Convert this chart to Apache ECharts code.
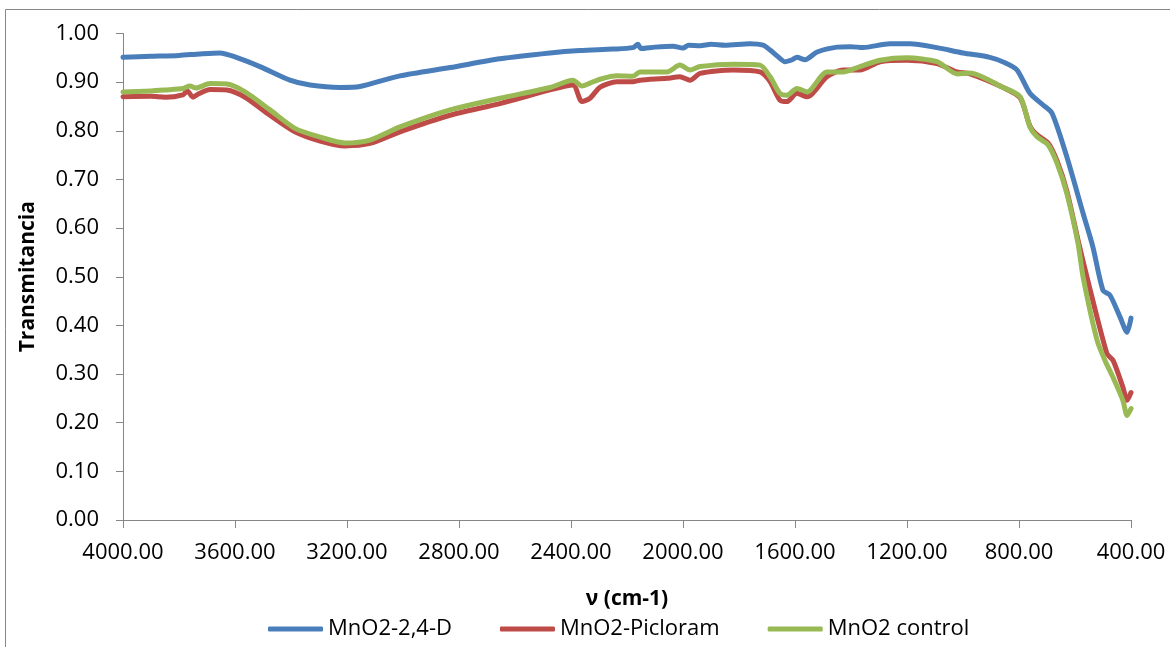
<!DOCTYPE html>
<html>
<head>
<meta charset="utf-8">
<script src="https://cdn.jsdelivr.net/npm/echarts@6/dist/echarts.min.js"></script>
<style>
html,body{margin:0;padding:0;background:#fff;}
#c{width:1170px;height:647px;}
</style>
</head>
<body>
<div id="c"></div>
<script>
// Wavenumbers (cm-1) and transmittance values
const seriesNames = ['MnO2-2,4-D', 'MnO2-Picloram', 'MnO2 control'];

const blueWn = [4000,3900,3800,3725,3654,3600,3511,3404,3332,3225,3154,3011,2832,2654,2475,2368,2250,2179,2161,2150,2100,2036,2000,1980,1939,1900,1850,1761,1714,1689,1660,1636,1610,1593,1564,1521,1450,1400,1357,1261,1189,1093,1000,904,850,807,761,714,682,629,571,536,500,475,439,414,400];
const blueT  = [0.951,0.953,0.955,0.958,0.960,0.952,0.932,0.904,0.894,0.889,0.891,0.913,0.930,0.948,0.960,0.965,0.968,0.971,0.978,0.969,0.972,0.974,0.970,0.976,0.975,0.978,0.976,0.979,0.976,0.966,0.952,0.942,0.946,0.951,0.946,0.962,0.972,0.973,0.971,0.979,0.979,0.971,0.960,0.951,0.940,0.925,0.877,0.853,0.836,0.746,0.630,0.561,0.472,0.462,0.417,0.386,0.415];

const redWn = [4000,3900,3850,3786,3770,3750,3730,3689,3629,3564,3475,3386,3296,3207,3118,3011,2832,2654,2475,2393,2361,2332,2296,2236,2179,2154,2057,2011,1975,1939,1821,1725,1689,1654,1629,1593,1557,1486,1429,1368,1296,1200,1093,1021,975,857,796,761,736,696,664,629,589,557,486,464,429,414,400];
const redT  = [0.870,0.871,0.869,0.874,0.882,0.869,0.876,0.885,0.884,0.869,0.832,0.798,0.779,0.769,0.774,0.798,0.832,0.856,0.884,0.894,0.860,0.867,0.890,0.901,0.901,0.904,0.908,0.911,0.904,0.918,0.925,0.921,0.901,0.863,0.860,0.877,0.870,0.911,0.925,0.925,0.942,0.945,0.938,0.921,0.917,0.889,0.868,0.810,0.792,0.775,0.738,0.676,0.575,0.499,0.342,0.328,0.273,0.246,0.262];

const greenWn = [4000,3900,3850,3786,3761,3740,3689,3629,3564,3475,3386,3296,3207,3118,3011,2832,2654,2475,2393,2361,2332,2296,2236,2179,2154,2057,2011,1975,1939,1821,1725,1689,1654,1629,1593,1557,1486,1429,1368,1296,1200,1093,1021,975,857,796,761,736,696,664,629,589,571,521,493,464,429,414,400];
const greenT  = [0.880,0.882,0.884,0.887,0.892,0.888,0.897,0.896,0.880,0.843,0.805,0.787,0.775,0.781,0.808,0.843,0.867,0.889,0.904,0.892,0.898,0.906,0.913,0.912,0.921,0.921,0.935,0.925,0.932,0.937,0.935,0.911,0.877,0.873,0.887,0.880,0.921,0.921,0.932,0.945,0.950,0.942,0.917,0.919,0.889,0.870,0.808,0.788,0.771,0.733,0.671,0.568,0.499,0.369,0.328,0.293,0.246,0.215,0.229];

const colors = ['#4A7EBB', '#BE4B48', '#98B954'];
const FONT = 'Open Sans';

function pairs(xs, ys) { return xs.map((x, i) => [x, ys[i]]); }

const chart = echarts.init(document.getElementById('c'), null, {renderer: 'canvas'});
const option = {
  animation: false,
  backgroundColor: '#fff',
  textStyle: {fontFamily: FONT},
  graphic: [{
    type: 'rect', silent: true,
    shape: {x: 5.5, y: 9.5, width: 1200, height: 700},
    style: {fill: 'none', stroke: '#868686', lineWidth: 1}
  }],
  grid: {left: 123, right: 39, top: 33.5, bottom: 127, containLabel: false},
  legend: {
    left: 268, top: 618, padding: 0,
    itemWidth: 55, itemHeight: 5, itemGap: 48,
    icon: 'roundRect',
    textStyle: {fontFamily: FONT, fontSize: 22, color: '#000', padding: [0, 0, 0, 0]},
    data: seriesNames
  },
  xAxis: {
    type: 'value', inverse: true, min: 400, max: 4000, interval: 400,
    name: 'ν (cm-1)', nameLocation: 'middle', nameGap: 69,
    nameTextStyle: {fontFamily: FONT, fontSize: 21, fontWeight: 'bold', color: '#000'},
    axisLine: {show: true, lineStyle: {color: '#868686', width: 1}},
    axisTick: {show: true, inside: false, length: 8, lineStyle: {color: '#868686'}},
    axisLabel: {fontFamily: FONT, fontSize: 22, color: '#000', margin: 22,
      formatter: v => v.toFixed(2)},
    splitLine: {show: false}
  },
  yAxis: {
    type: 'value', min: 0, max: 1, interval: 0.1,
    name: 'Transmitancia', nameLocation: 'middle', nameGap: 84, nameRotate: 90,
    nameTextStyle: {fontFamily: FONT, fontSize: 21, fontWeight: 'bold', color: '#000'},
    axisLine: {show: true, lineStyle: {color: '#868686', width: 1}},
    axisTick: {show: true, inside: false, length: 7, lineStyle: {color: '#868686'}},
    axisLabel: {fontFamily: FONT, fontSize: 22, color: '#000', margin: 24,
      formatter: v => v.toFixed(2)},
    splitLine: {show: false}
  },
  series: [
    {name: seriesNames[0], data: pairs(blueWn, blueT)},
    {name: seriesNames[1], data: pairs(redWn, redT)},
    {name: seriesNames[2], data: pairs(greenWn, greenT)}
  ].map((s, i) => Object.assign(s, {
    type: 'line', showSymbol: false, symbol: 'none', smooth: 0.25,
    color: colors[i],
    itemStyle: {color: colors[i]},
    lineStyle: {color: colors[i], width: 5, cap: 'round', join: 'round'},
    z: 2 + i
  }))
};
chart.setOption(option);
</script>
</body>
</html>
